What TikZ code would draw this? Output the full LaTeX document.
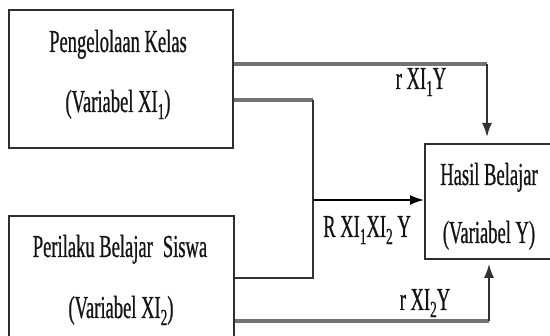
\documentclass[tikz,border=0pt]{standalone}
\usepackage{fontspec}
\setmainfont{Liberation Serif}[FakeStretch=0.58,FakeBold=0.6]
\usetikzlibrary{arrows.meta}
\definecolor{boxc}{HTML}{2E2E2E}
\definecolor{grayc}{HTML}{737373}
\definecolor{darkc}{HTML}{333333}
\definecolor{txtc}{HTML}{141414}
\newcommand{\sbs}[1]{\raisebox{-0.22em}{\fontsize{23}{23}\selectfont #1}}
\tikzset{
  boxnode/.style={draw=boxc, line width=1.8pt, inner sep=0pt, anchor=north west, fill=white},
  txt/.style={anchor=base, inner sep=0pt, text=txtc, font=\fontsize{32}{38}\selectfont},
  grayline/.style={draw=grayc, line width=3.2pt},
  darkline/.style={draw=darkc, line width=1.8pt},
  blackline/.style={draw=black, line width=1.8pt},
  tip/.style={-{Latex[length=14pt,width=10pt]}}
}
\begin{document}
\begin{tikzpicture}[x=1pt,y=-1pt]
\useasboundingbox (0,0) rectangle (550,336);
\clip (0,0) rectangle (550,336);
\fill[white] (0,0) rectangle (550,336);
% boxes
\node[boxnode, minimum width=224pt, minimum height=138pt] (b1) at (8,9) {};
\node[boxnode, minimum width=225pt, minimum height=121pt] (b2) at (8,215) {};
\node[boxnode, minimum width=140pt, minimum height=115pt] (hy) at (424,143) {};
% box texts
\node[txt] (t1a) at (118,52) {Pengelolaan Kelas};
\node[txt] (t1b) at (118,112) {(Variabel XI\sbs{1})};
\node[txt] (t2a) at (120,257) {Perilaku Belajar\, Siswa};
\node[txt] (t2b) at (121,318) {(Variabel XI\sbs{2})};
\node[txt] (t3a) at (489,185) {Hasil Belajar};
\node[txt] (t3b) at (489,243) {(Variabel Y)};
% bend points
\coordinate (k1) at (487,64);
\coordinate (k2) at (313,100);
\coordinate (k3) at (313,278);
\coordinate (k4) at (489,321);
\coordinate (j) at (313,200);
% connectors
\draw[grayline] (b1.east |- k1) -- (k1);
\draw[darkline, tip, shorten >=6pt] (k1) -- (k1 |- hy.north);
\draw[grayline] (b1.east |- k2) -- (k2);
\draw[darkline] (k2) -- (k3) -- (b2.east |- k3);
\draw[blackline, tip] (j) -- (j -| hy.west);
\draw[grayline] (b2.east |- k4) -- (k4);
\draw[darkline, tip, shorten >=4pt] (k4) -- (k4 |- hy.south);
% labels
\node[txt] (l1) at (421,89) {r XI\sbs{1}Y};
\node[txt] (l2) at (367,237) {R XI\sbs{1}XI\sbs{2} Y};
\node[txt] (l3) at (425,310) {r XI\sbs{2}Y};
\end{tikzpicture}
\end{document}
